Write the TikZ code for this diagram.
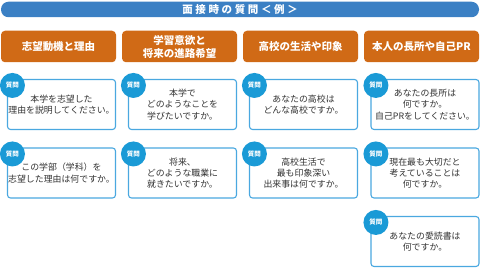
\documentclass[tikz,border=0pt]{standalone}
\usepackage{fontspec}
\setmainfont{Noto Sans CJK JP}
\usetikzlibrary{calc}
\definecolor{titleblue}{HTML}{3B80C4}
\definecolor{catorange}{HTML}{D06A16}
\definecolor{qblue}{HTML}{4AA8E0}
\definecolor{badgeblue}{HTML}{1A9AD6}
\definecolor{textgray}{HTML}{333333}
\begin{document}
\begin{tikzpicture}[x=1pt,y=-1pt,
  titlebar/.style={fill=titleblue, rounded corners=7.5pt, minimum width=478pt, minimum height=15.5pt, inner sep=0pt, text=white, font=\bfseries\addfontfeatures{LetterSpace=25}\fontsize{10.5}{12}\selectfont},
  cat/.style={fill=catorange, rounded corners=4pt, minimum width=115pt, minimum height=31.5pt, inner sep=0pt, text=white, align=center, font=\bfseries\fontsize{10.5}{13}\selectfont},
  qbox/.style={draw=qblue, line width=1.1pt, fill=white, rounded corners=3pt, minimum width=108pt, minimum height=50pt, inner sep=0pt, align=center, text=textgray, font=\fontsize{8.9}{11.3}\selectfont},
  badge/.style={circle, fill=badgeblue, minimum size=25pt, inner sep=0pt, text=white, font=\bfseries\fontsize{6.5}{7}\selectfont}
]
\useasboundingbox (0,0) rectangle (480,272);
\node[titlebar] (title) at (240,9.5) {面接時の質問＜例＞};

\node[cat] (c1) at (58.5,46.5) {志望動機と理由};
\node[cat] (c2) at (179.5,46.5) {学習意欲と\\将来の進路希望};
\node[cat] (c3) at (300.5,46.5) {高校の生活や印象};
\node[cat] (c4) at (421.5,46.5) {本人の長所や自己PR};

\node[qbox] (q11) at (61.5,104.5) {本学を志望した\\理由を説明してください。};
\node[qbox] (q12) at (182.5,104.5) {本学で\\どのようなことを\\学びたいですか。};
\node[qbox] (q13) at (303.5,104.5) {あなたの高校は\\どんな高校ですか。};
\node[qbox] (q14) at (425,104.5) {あなたの長所は\\何ですか。\\自己PRをしてください。};

\node[qbox] (q21) at (61.5,173) {この学部（学科）を\\志望した理由は何ですか。};
\node[qbox] (q22) at (182.5,173) {将来、\\どのような職業に\\就きたいですか。};
\node[qbox] (q23) at (303.5,173) {高校生活で\\最も印象深い\\出来事は何ですか。};
\node[qbox] (q24) at (425,173) {現在最も大切だと\\考えていることは\\何ですか。};

\node[qbox] (q34) at (425,241.5) {あなたの愛読書は\\何ですか。};

\foreach \q in {q11,q12,q13,q14,q21,q22,q23,q24,q34}{
  \node[badge] (b\q) at ($(\q.north west)+(5.5,6.5)$) {質問};
}
\end{tikzpicture}
\end{document}
